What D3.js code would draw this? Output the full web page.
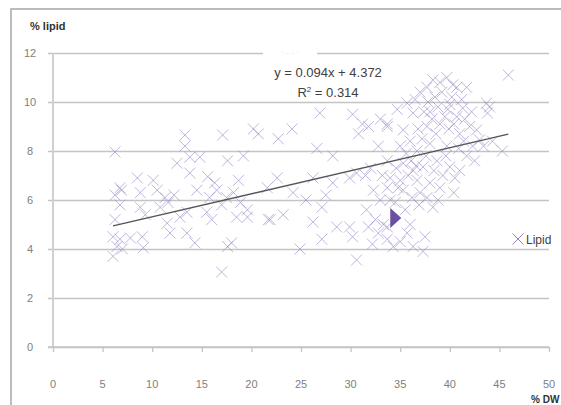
<!DOCTYPE html>
<html>
<head>
<meta charset="utf-8">
<script src="https://cdn.jsdelivr.net/npm/d3@7"></script>
<style>
  html, body { margin: 0; padding: 0; background: #fff; }
  svg { display: block; }
</style>
</head>
<body>
<div id="chart"></div>
<script>
// % dry weight (x) and % lipid (y)
const dw = [
  6.25, 13.3, 17.1, 20.2, 20.7, 13.3, 13.8, 12.5, 14.8, 17.6, 19.2, 13.8, 15.6, 16.3, 6.75, 6.9,
  8.5, 10.1, 6.25, 8.8, 10.5, 11.3, 11.6, 10.8, 6.75, 8.8, 15.8, 16.5, 17.5, 18.2, 18.9, 19.6,
  15.5, 13.5, 12.8, 11.5, 11.8, 13.5, 6.25, 6.05, 6.75, 7.8, 9.0, 6.45, 6.05, 9.1, 14.3, 17.0,
  18.0, 17.6, 21.7, 21.6, 19.6, 18.5, 7.0, 9.3, 12.2, 14.5, 17.0, 16.0, 18.7,
  26.9, 30.2, 31.2, 22.7, 24.1, 26.6, 28.2, 32.8, 33.7, 34.7, 22.6, 24.2, 26.2, 28.2, 29.9, 30.6,
  21.9, 23.2, 26.2, 27.1, 28.6, 29.9, 30.2, 31.6, 32.5, 24.9, 27.1, 30.6, 33.7, 34.3, 32.8,
  25.5, 27.5, 30.8, 31.8, 33.0, 32.3, 33.2, 31.5, 32.0, 33.0, 31.8, 32.2, 33.3,
  45.9, 37.7, 38.3, 39.7, 40.7, 41.7, 37.0, 38.8, 39.8, 40.7, 41.3, 43.7, 43.8, 35.7, 36.3, 33.7,
  35.3, 37.7, 39.0, 41.0, 42.7, 43.0, 45.3, 35.0, 36.7, 38.0, 39.7, 41.7, 33.7, 35.3, 36.3, 37.3,
  38.7, 40.0, 34.0, 35.0, 36.7, 38.0, 39.0, 33.7, 35.3, 37.0, 38.3, 37.7, 34.0, 35.7, 36.3, 37.3,
  33.7,
  38.5, 39.2, 40.2, 40.0, 39.5, 40.4, 41.5, 42.0, 38.2, 37.4, 36.8, 37.2, 38.6, 39.9, 40.9, 42.3,
  44.3, 44.0, 36.0, 35.6, 36.1, 36.6, 37.6, 38.4, 39.3, 40.5, 41.0, 35.8, 34.6, 34.8, 36.2, 36.9,
  35.5, 34.5, 38.8, 40.4, 39.6, 42.5, 41.4, 43.4, 37.8, 39.0, 40.3, 41.2, 42.2, 36.5, 38.0,
  35.0, 36.0, 37.5
];
const lipid = [
  7.96, 8.65, 8.65, 8.9, 8.7, 8.2, 7.75, 7.5, 7.75, 7.6, 7.8, 7.1, 6.95, 6.7, 6.5, 6.4,
  6.9, 6.8, 6.2, 6.3, 6.4, 6.1, 5.9, 5.7, 5.8, 5.7, 6.1, 6.4, 6.1, 6.3, 5.9, 5.6,
  5.5, 5.5, 5.3, 5.05, 4.65, 4.65, 5.2, 4.5, 4.4, 4.45, 4.5, 4.1, 3.7, 4.05, 4.25, 3.06,
  4.25, 4.1, 5.2, 6.5, 5.3, 5.3, 4.0, 5.4, 6.2, 6.4, 5.8, 5.2, 6.8,
  9.55, 9.5, 9.1, 8.5, 8.9, 8.1, 7.8, 8.2, 9.1, 9.7, 6.9, 6.3, 6.9, 6.7, 6.9, 7.1,
  5.2, 5.4, 5.1, 5.7, 4.9, 4.9, 4.5, 5.6, 5.2, 4.0, 4.4, 3.55, 4.4, 4.1, 4.65,
  6.0, 6.2, 8.7, 9.0, 9.3, 6.4, 7.0, 7.0, 7.3, 6.0, 4.9, 4.2, 5.0,
  11.1, 10.6, 10.9, 11.0, 10.6, 10.6, 10.4, 9.8, 9.7, 9.4, 9.75, 9.95, 9.55, 9.95, 9.55, 9.0,
  8.86, 9.0, 9.1, 8.7, 8.86, 8.45, 8.0, 8.2, 8.0, 8.3, 8.2, 7.8, 7.6, 7.5, 7.2, 7.35,
  7.6, 7.35, 6.9, 6.8, 6.8, 6.7, 6.5, 6.5, 6.4, 6.3, 5.7, 6.1, 6.0, 4.65, 4.1, 3.9,
  4.9,
  10.2, 10.4, 10.2, 9.9, 9.4, 9.1, 9.3, 9.0, 9.3, 9.6, 8.9, 8.5, 8.7, 8.9, 8.1, 8.2,
  8.4, 9.8, 8.4, 7.9, 7.6, 7.4, 7.8, 7.2, 7.0, 6.9, 7.2, 7.0, 7.3, 6.5, 6.1, 5.8,
  5.6, 5.9, 6.0, 6.3, 7.8, 7.6, 8.4, 8.2, 10.0, 10.8, 10.7, 10.1, 9.6, 10.1, 9.6,
  4.3, 5.0, 4.5
];

// axis ticks
const xTicks = [0, 5, 10, 15, 20, 25, 30, 35, 40, 45, 50];
const yTicks = [0, 2, 4, 6, 8, 10, 12];

// trendline as printed on the chart
const slope = 0.094;
const intercept = 4.372;
const eqLabel = 'y = 0.094x + 4.372';
const r2Value = '0.314';
const seriesName = 'Lipid';

// the purple pointer near the cluster (data coords)
const pointer = { x: 34.0, y: 5.27 };

const width = 561, height = 405;
const plot = { left: 53, right: 549, top: 53, bottom: 347 };

const svg = d3.select('#chart').append('svg')
  .attr('width', width)
  .attr('height', height);

// outer frame (top and left edges of the chart area)
svg.append('path')
  .attr('d', `M11,${height} L11,9 L${width},9`)
  .attr('fill', 'none')
  .attr('stroke', '#a6a6a6')
  .attr('stroke-width', 1.5);

const x = d3.scaleLinear().domain([0, 50]).range([plot.left, plot.right]);
const y = d3.scaleLinear().domain([0, 12]).range([plot.bottom, plot.top]);

// horizontal gridlines with small ticks to the left
svg.append('g')
  .attr('transform', `translate(${plot.left},0)`)
  .call(d3.axisLeft(y).tickValues(yTicks).tickSize(-(plot.right - plot.left)).tickFormat(''))
  .call(g => g.select('.domain').remove())
  .call(g => g.selectAll('.tick line')
    .attr('stroke', '#c4c4c4')
    .attr('stroke-width', 1.3)
    .attr('x1', -5));

// y axis line
svg.append('line')
  .attr('x1', plot.left).attr('x2', plot.left)
  .attr('y1', plot.top).attr('y2', plot.bottom)
  .attr('stroke', '#d0d0d0')
  .attr('stroke-width', 2);

// y tick labels
svg.append('g').selectAll('text')
  .data(yTicks)
  .join('text')
  .attr('x', 30)
  .attr('y', d => y(d) + 4)
  .attr('text-anchor', 'middle')
  .attr('font-family', 'Liberation Sans, Arial, sans-serif')
  .attr('font-size', 11)
  .attr('fill', '#808080')
  .text(d => d);

// x axis
svg.append('g')
  .attr('transform', `translate(0,${plot.bottom})`)
  .call(d3.axisBottom(x).tickValues(xTicks).tickSize(5).tickFormat(''))
  .call(g => g.select('.domain')
    .attr('stroke', '#c4c4c4')
    .attr('stroke-width', 1.3)
    .attr('d', `M${plot.left - 5},0H${plot.right}`))
  .call(g => g.selectAll('.tick line').attr('stroke', '#c4c4c4').attr('stroke-width', 1.3));

svg.append('g').selectAll('text')
  .data(xTicks)
  .join('text')
  .attr('x', d => x(d))
  .attr('y', 388)
  .attr('text-anchor', 'middle')
  .attr('font-family', 'Liberation Sans, Arial, sans-serif')
  .attr('font-size', 11)
  .attr('fill', '#808080')
  .text(d => d);

// hidden title box that breaks the top gridline
svg.append('rect')
  .attr('x', 263).attr('y', 49)
  .attr('width', 54).attr('height', 8)
  .attr('fill', '#fff');
svg.append('text')
  .attr('x', 290).attr('y', 55)
  .attr('text-anchor', 'middle')
  .attr('font-family', 'Liberation Sans, Arial, sans-serif')
  .attr('font-size', 8)
  .attr('fill', '#e2e2e2')
  .text('·  -   - ·');

// axis titles
svg.append('text')
  .attr('x', 30).attr('y', 30)
  .attr('font-family', 'Liberation Sans, Arial, sans-serif')
  .attr('font-size', 11)
  .attr('font-weight', 'bold')
  .attr('fill', '#333')
  .text('% lipid');

svg.append('text')
  .attr('x', 531).attr('y', 403)
  .attr('font-family', 'Liberation Sans, Arial, sans-serif')
  .attr('font-size', 10)
  .attr('font-weight', 'bold')
  .attr('fill', '#333')
  .text('% DW');

// points as x markers
const points = dw.map((d, i) => ({ x: d, y: lipid[i] }));
const m = 5.5;
const crossPath = (cx, cy) => `M${cx - m},${cy - m}L${cx + m},${cy + m}M${cx - m},${cy + m}L${cx + m},${cy - m}`;

svg.append('g').selectAll('path')
  .data(points)
  .join('path')
  .attr('d', d => crossPath(x(d.x), y(d.y)))
  .attr('fill', 'none')
  .attr('stroke', '#9683c6')
  .attr('stroke-opacity', 0.6)
  .attr('stroke-width', 1);

// linear trendline over the range of the data
const xExt = d3.extent(dw);
svg.append('line')
  .attr('x1', x(xExt[0])).attr('y1', y(slope * xExt[0] + intercept))
  .attr('x2', x(xExt[1])).attr('y2', y(slope * xExt[1] + intercept))
  .attr('stroke', '#555')
  .attr('stroke-width', 1.3);

// equation label
const eqFont = 'Liberation Sans Narrow, Arial Narrow, Liberation Sans, sans-serif';
svg.append('text')
  .attr('x', 328).attr('y', 77)
  .attr('text-anchor', 'middle')
  .attr('font-family', eqFont)
  .attr('font-size', 13)
  .attr('fill', '#404040')
  .text(eqLabel);

const r2 = svg.append('text')
  .attr('x', 328).attr('y', 97)
  .attr('text-anchor', 'middle')
  .attr('font-family', eqFont)
  .attr('font-size', 13)
  .attr('fill', '#404040');
r2.append('tspan').text('R');
r2.append('tspan').attr('dy', -5).attr('font-size', 8).text('2');
r2.append('tspan').attr('dy', 5).text(' = ' + r2Value);

// pointer triangle
const px = x(pointer.x), py = y(pointer.y);
svg.append('path')
  .attr('d', `M${px},${py - 10}L${px + 11},${py}L${px},${py + 10}Z`)
  .attr('fill', '#6b4fa3');

// legend
svg.append('path')
  .attr('d', crossPath(518, 239))
  .attr('fill', 'none')
  .attr('stroke', '#9683c6')
  .attr('stroke-width', 1);
svg.append('text')
  .attr('x', 526).attr('y', 244)
  .attr('font-family', 'Liberation Sans, Arial, sans-serif')
  .attr('font-size', 12)
  .attr('fill', '#404040')
  .text(seriesName);
</script>
</body>
</html>
